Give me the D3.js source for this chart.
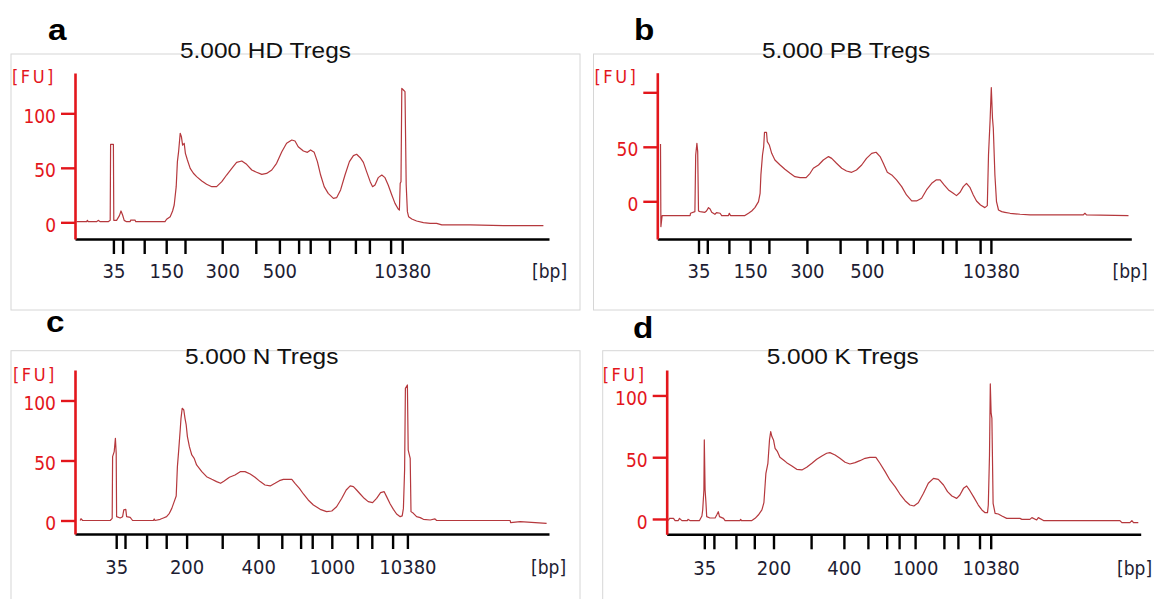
<!DOCTYPE html>
<html>
<head>
<meta charset="utf-8">
<script src="https://cdn.jsdelivr.net/npm/d3@7"></script>
<style>
  body { margin: 0; background: #fff; }
  svg { display: block; }
</style>
</head>
<body>
<div id="chart"></div>
<script>
// HS DNA ladder fragments (bp), one x tick per fragment
const ladderSizes = [35, 50, 100, 150, 200, 300, 400, 500, 600, 700, 1000, 2000, 3000, 7000, 10380];
const labelsAB = [35, 150, 300, 500, 10380];
const labelsCD = [35, 200, 400, 1000, 10380];

// migration time (s) of each ladder fragment, per run
const ladderA = [21.6, 23.9, 29.3, 34.8, 39.5, 48.8, 57.2, 63.1, 67.9, 70.8, 75.6, 82.1, 85.6, 90.9, 93.8];
const ladderB = [22.3, 24.5, 29.9, 35.2, 39.9, 49.4, 57.7, 64.4, 68.3, 71.9, 76.0, 83.3, 86.7, 92.7, 95.4];
const ladderC = [22.3, 24.5, 29.9, 34.8, 39.9, 48.8, 57.8, 63.7, 68.4, 71.3, 76.2, 82.6, 86.2, 91.4, 95.1];
const ladderD = [21.4, 23.8, 29.3, 33.9, 38.7, 48.1, 56.3, 62.3, 67.0, 70.1, 74.1, 81.3, 84.8, 90.2, 93.0];

const titles = ["5.000 HD Tregs", "5.000 PB Tregs", "5.000 N Tregs", "5.000 K Tregs"];
const letters = ["a", "b", "c", "d"];

// electropherograms: [time (s), fluorescence (FU)]
const traceA = [[12.4,0.6],[14.9,0.6],[15.1,1.8],[15.3,0.6],[17.4,0.6],[17.8,1.8],[18.3,0.6],[20.3,0.6],[20.8,1.8],[20.9,71.6],[21.6,71.6],[21.7,1.8],[22.4,1.8],[23.1,6.1],[23.5,10.4],[23.9,6.7],[24.3,1.8],[24.9,0.6],[25.8,0.6],[25.9,2.1],[27.0,2.1],[27.2,0.6],[34.5,0.6],[34.9,2.8],[35.8,5.2],[36.4,10.4],[36.8,15.9],[37.3,32.7],[37.6,55.7],[37.9,64.8],[38.3,81.7],[38.6,78.6],[38.9,70.9],[39.3,72.5],[39.6,63.3],[40.1,57.2],[40.8,49.5],[41.6,45.0],[42.4,41.9],[43.7,37.9],[44.9,34.9],[46.2,32.7],[47.4,32.7],[48.7,37.3],[49.9,43.4],[51.2,49.5],[52.4,55.0],[53.7,56.3],[54.9,53.2],[56.2,48.0],[57.4,45.9],[58.7,44.0],[59.9,44.9],[61.2,48.0],[62.4,54.1],[63.7,64.8],[64.9,72.5],[66.2,75.5],[67.0,74.6],[67.8,69.4],[69.1,65.4],[70.1,64.2],[70.9,66.4],[71.8,64.2],[72.6,55.7],[73.4,43.4],[74.3,32.7],[75.3,26.6],[76.6,22.0],[77.4,22.6],[78.4,29.7],[79.5,43.4],[80.6,55.7],[81.6,61.2],[82.4,62.4],[83.3,59.3],[84.1,55.0],[84.9,46.5],[85.8,37.3],[86.4,32.7],[87.0,34.3],[87.8,41.0],[88.7,43.4],[89.5,41.0],[90.3,34.3],[91.2,25.1],[92.0,17.4],[92.8,12.2],[93.1,11.3],[93.3,35.8],[93.5,37.3],[93.7,122.9],[94.1,121.4],[94.5,119.9],[94.8,34.3],[95.1,9.8],[95.4,5.2],[96.2,3.1],[97.4,1.2],[99.1,-0.3],[100.8,-0.9],[102.4,-0.9],[103.7,-2.4],[110.8,-2.4],[119.1,-3.1],[129.1,-3.1]];

const traceB = [[12.8,52.6],[12.9,-23.2],[13.2,-13.1],[20.2,-13.1],[20.3,-11.0],[21.4,-9.5],[21.6,42.5],[21.9,53.2],[22.1,45.6],[22.3,-8.9],[22.7,-9.5],[23.9,-10.1],[24.3,-8.9],[24.8,-5.8],[25.2,-7.0],[25.6,-10.1],[26.4,-11.9],[26.8,-10.4],[27.7,-11.0],[28.1,-13.1],[29.8,-13.1],[30.0,-11.0],[30.3,-13.1],[33.9,-13.1],[34.8,-11.0],[35.6,-8.9],[36.4,-5.8],[37.3,-0.3],[37.7,7.3],[37.9,24.2],[38.3,42.5],[38.6,50.2],[38.8,63.3],[39.3,63.3],[39.5,54.7],[40.0,51.7],[40.6,44.0],[41.4,37.9],[42.7,33.3],[43.9,29.4],[45.2,25.7],[46.4,22.6],[47.7,21.7],[49.2,21.7],[50.2,25.7],[51.0,30.3],[52.3,33.3],[53.5,37.9],[54.8,41.0],[55.6,39.4],[56.8,34.9],[58.1,30.3],[59.3,27.8],[60.6,26.6],[61.8,28.7],[63.1,33.3],[64.3,39.4],[65.6,44.0],[66.7,45.0],[67.7,41.0],[68.5,34.9],[69.5,26.6],[70.6,24.2],[71.8,19.6],[73.1,13.5],[74.3,5.8],[75.6,0.3],[76.8,0.3],[78.1,2.8],[79.3,10.4],[80.6,16.5],[81.7,19.6],[82.7,19.6],[83.7,15.0],[84.8,10.4],[86.0,7.3],[86.8,5.2],[87.7,8.3],[88.5,13.5],[89.3,16.5],[90.2,12.5],[91.0,5.8],[91.8,0.3],[92.8,-3.4],[93.9,-5.8],[94.5,-4.0],[94.8,42.5],[95.2,74.6],[95.5,104.3],[95.8,76.1],[96.0,67.0],[96.4,24.2],[96.8,-0.3],[97.3,-8.0],[98.1,-9.5],[98.9,-10.1],[100.2,-11.0],[102.7,-11.9],[105.2,-12.5],[109.3,-12.5],[118.5,-12.5],[118.9,-11.0],[119.3,-12.5],[129.8,-13.1]];

const traceC = [[13.3,0],[13.5,1.5],[13.9,0],[20.8,0],[21.3,1.8],[21.4,53.2],[21.8,57.4],[22.1,68.5],[22.3,56.0],[22.4,3.2],[23.3,2.1],[23.9,3.2],[24.2,8.8],[24.7,9.3],[24.9,3.2],[25.8,2.6],[26.4,0],[31.6,0],[31.8,1.3],[32.0,0],[33.3,1.0],[34.1,2.1],[34.9,3.2],[35.6,6.0],[36.2,10.1],[36.8,15.7],[37.3,20.4],[37.6,44.9],[37.9,57.4],[38.3,75.4],[38.5,85.1],[38.8,93.5],[39.2,92.1],[39.5,85.1],[39.8,79.6],[40.1,69.9],[40.6,61.5],[41.2,54.6],[41.8,51.8],[42.4,46.3],[43.7,40.7],[44.9,36.5],[46.2,34.3],[47.4,32.4],[48.4,31.0],[49.3,32.9],[50.6,36.0],[52.0,37.9],[53.3,40.7],[54.5,40.7],[55.8,38.8],[57.0,36.0],[58.3,32.4],[59.5,29.6],[60.8,28.8],[62.0,31.0],[63.1,33.2],[64.1,34.3],[66.2,34.3],[67.0,31.0],[68.1,26.8],[69.1,22.1],[70.3,17.1],[71.6,12.9],[73.3,9.3],[74.9,7.4],[76.2,7.9],[77.4,11.5],[78.7,18.5],[79.8,25.4],[80.8,28.8],[81.6,28.2],[82.4,25.4],[83.3,22.1],[84.3,18.5],[85.3,15.7],[86.4,14.9],[87.4,18.5],[88.4,23.2],[89.3,24.0],[89.9,19.9],[90.8,13.8],[91.6,9.3],[92.4,5.4],[93.3,3.2],[93.8,3.8],[94.1,10.1],[94.4,42.1],[94.6,110.1],[95.1,112.9],[95.3,58.7],[95.8,51.8],[96.0,7.4],[96.6,6.0],[97.4,3.2],[98.3,2.4],[99.1,1.0],[100.8,0.4],[102.0,1.3],[102.4,0],[120.8,0],[120.9,-1.8],[123.3,-1.0],[129.9,-2.4]];

const traceD = [[12.4,-1.3],[12.7,0.5],[13.7,0.5],[14.1,-1.3],[14.9,-1.3],[15.2,0.5],[15.8,-1.3],[17.2,-1.3],[17.3,-0.3],[17.8,-1.3],[20.2,-1.3],[20.8,2.4],[21.0,7.3],[21.3,23.5],[21.4,64.0],[21.6,23.5],[21.8,14.0],[22.0,1.9],[22.8,0.8],[24.1,0.8],[24.5,3.2],[24.9,5.9],[25.2,1.9],[26.2,0.5],[26.6,-1.3],[30.3,-1.3],[30.5,-0.3],[30.7,-1.3],[33.3,-1.3],[34.1,0.5],[34.9,3.2],[35.8,7.3],[36.3,13.2],[36.8,37.0],[37.3,45.1],[37.7,64.0],[38.0,70.7],[38.3,66.7],[38.7,64.0],[39.1,57.2],[39.7,54.5],[40.3,49.9],[41.2,47.8],[42.0,45.6],[43.3,42.9],[44.5,40.2],[45.8,39.7],[47.0,41.8],[48.3,45.1],[49.5,48.3],[50.8,51.0],[52.0,53.2],[52.8,53.7],[54.1,51.8],[55.3,49.1],[56.6,45.9],[57.8,44.5],[59.1,45.6],[60.3,47.2],[61.6,49.1],[62.8,49.9],[64.3,49.9],[65.3,45.1],[66.6,38.3],[67.8,31.6],[69.1,26.2],[70.3,20.2],[71.6,14.8],[72.8,11.3],[73.8,10.5],[74.9,13.2],[76.2,20.8],[77.4,28.9],[78.7,32.9],[79.9,32.1],[81.2,27.5],[82.2,22.1],[83.3,18.6],[84.5,16.7],[85.3,19.4],[86.2,24.8],[87.0,26.7],[87.8,22.9],[88.8,17.5],[89.9,11.3],[90.8,7.3],[91.6,5.1],[92.2,5.1],[92.4,11.3],[92.7,51.8],[92.9,109.3],[93.1,86.1],[93.3,81.5],[93.6,12.7],[94.1,4.6],[94.9,4.0],[95.8,2.4],[97.0,0.5],[100.3,0.5],[100.8,-0.3],[102.8,-0.3],[103.3,1.1],[104.5,-0.8],[104.9,1.1],[106.2,-1.3],[107.0,-1.3],[125.3,-1.3],[125.8,-3.0],[127.8,-3.0],[128.3,-1.3],[128.7,-3.0],[129.9,-3.0]];

const timeDomain = [12, 130.5];
const yTicks = [0, 50, 100];

// layout of the four panels (pixels)
const panels = [
    { trace: traceA, ladder: ladderA, labels: labelsAB, yDomain: [-15.3, 137], yLabeled: [0, 50, 100],
      frame: [11, 54, 569, 256], letter: [48, 40], title: [180, 58], fu: [12, 83],
      x0: 75, top: 73, bottom: 239, labelY: 278, bp: [532, 278] },
    { trace: traceB, ladder: ladderB, labels: labelsAB, yDomain: [-34.6, 118], yLabeled: [0, 50],
      frame: [593.5, 54, 600, 256], letter: [634, 40], title: [762, 58], fu: [594.5, 83],
      x0: 657.3, top: 72.7, bottom: 239, labelY: 278, bp: [1112.5, 278] },
    { trace: traceC, ladder: ladderC, labels: labelsCD, yDomain: [-11.25, 125.4], yLabeled: [0, 50, 100],
      frame: [11, 350.7, 569, 300], letter: [46, 332], title: [185, 364], fu: [13, 380.5],
      x0: 75, top: 370, bottom: 534, labelY: 574, bp: [531, 574] },
    { trace: traceD, ladder: ladderD, labels: labelsCD, yDomain: [-12.4, 120.6], yLabeled: [0, 50, 100],
      frame: [602.7, 350.7, 600, 300], letter: [633, 338], title: [766.7, 364], fu: [602.7, 380.5],
      x0: 666.7, top: 370, bottom: 534.3, labelY: 575, bp: [1117, 575] }
];

const plotWidth = 474;
const red = "#e3161c";
const traceColor = "#b5383d";
const labelFont = "'DejaVu Sans Condensed', 'DejaVu Sans', sans-serif";

const svg = d3.select("#chart")
    .append("svg")
    .attr("width", 1154)
    .attr("height", 599)
    .style("background", "#fff");

panels.forEach((p, i) => drawPanel(p, i));

function drawPanel(p, i) {
    const g = svg.append("g");

    g.append("rect")
        .attr("x", p.frame[0]).attr("y", p.frame[1])
        .attr("width", p.frame[2]).attr("height", p.frame[3])
        .attr("fill", "none")
        .attr("stroke", "#d6d6d6")
        .attr("stroke-width", 1);

    const x = d3.scaleLinear().domain(timeDomain).range([p.x0, p.x0 + plotWidth]);
    const y = d3.scaleLinear().domain(p.yDomain).range([p.bottom, p.top]);

    // trace first, axes drawn over it
    g.append("path")
        .datum(p.trace)
        .attr("fill", "none")
        .attr("stroke", traceColor)
        .attr("stroke-width", 1.2)
        .attr("stroke-linejoin", "round")
        .attr("d", d3.line().x(d => x(d[0])).y(d => y(d[1])));

    // x axis: ladder positions
    const xAxis = d3.axisBottom(x)
        .tickValues(p.ladder)
        .tickSizeInner(15)
        .tickSizeOuter(0)
        .tickFormat((d, k) => p.labels.includes(ladderSizes[k]) ? ladderSizes[k] : "");

    const xg = g.append("g")
        .attr("transform", `translate(0,${p.bottom})`)
        .call(xAxis);
    xg.select(".domain").attr("stroke", "#000").attr("stroke-width", 2.6);
    xg.selectAll(".tick line").attr("stroke", "#000").attr("stroke-width", 2.4);
    xg.selectAll(".tick text")
        .attr("y", p.labelY - p.bottom)
        .attr("dy", 0)
        .attr("fill", "#1d1d33")
        .style("font-family", labelFont)
        .style("font-size", "20px");

    // y axis
    const yAxis = d3.axisLeft(y)
        .tickValues(yTicks)
        .tickSizeInner(14)
        .tickSizeOuter(0)
        .tickPadding(5)
        .tickFormat(d => p.yLabeled.includes(d) ? d : "");

    const yg = g.append("g")
        .attr("transform", `translate(${p.x0},0)`)
        .call(yAxis);
    yg.select(".domain").attr("stroke", red).attr("stroke-width", 2.6);
    yg.selectAll(".tick line").attr("stroke", red).attr("stroke-width", 2.4);
    yg.selectAll(".tick text")
        .attr("dy", "0.48em")
        .attr("fill", red)
        .style("font-family", labelFont)
        .style("font-size", "19px");

    g.append("text")
        .attr("x", p.fu[0]).attr("y", p.fu[1])
        .attr("fill", red)
        .style("font-family", labelFont)
        .style("font-size", "18px")
        .style("letter-spacing", "2.5px")
        .text("[FU]");

    g.append("text")
        .attr("x", p.bp[0]).attr("y", p.bp[1])
        .attr("fill", "#1d1d33")
        .style("font-family", labelFont)
        .style("font-size", "19px")
        .text("[bp]");

    g.append("text")
        .attr("transform", `translate(${p.title[0]},${p.title[1]}) scale(1.11,1)`)
        .attr("fill", "#111")
        .style("font-family", "'Liberation Sans', Arial, sans-serif")
        .style("font-size", "22px")
        .text(titles[i]);

    g.append("text")
        .attr("transform", `translate(${p.letter[0]},${p.letter[1]}) scale(1.11,1)`)
        .attr("fill", "#000")
        .style("font-family", "'Liberation Sans', Arial, sans-serif")
        .style("font-weight", "bold")
        .style("font-size", "30px")
        .text(letters[i]);
}
</script>
</body>
</html>
